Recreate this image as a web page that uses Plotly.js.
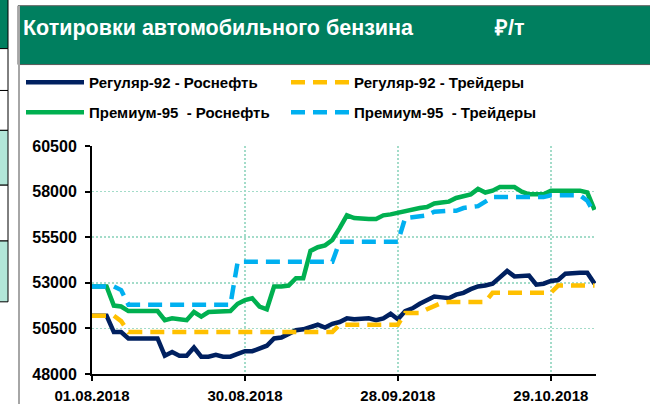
<!DOCTYPE html>
<html><head><meta charset="utf-8">
<script src="https://cdn.plot.ly/plotly-3.0.1.min.js"></script>
<style>html,body{margin:0;padding:0;background:#fff;overflow:hidden}#chart{width:650px;height:404px}</style>
</head><body><div id="chart"></div>
<script>
const dates = ['01.08.2018','02.08.2018','03.08.2018','06.08.2018','07.08.2018','08.08.2018','09.08.2018','10.08.2018','13.08.2018','14.08.2018',
'15.08.2018','16.08.2018','17.08.2018','20.08.2018','21.08.2018','22.08.2018','23.08.2018','24.08.2018','27.08.2018','28.08.2018',
'29.08.2018','30.08.2018','31.08.2018','03.09.2018','04.09.2018','05.09.2018','06.09.2018','07.09.2018','10.09.2018','11.09.2018',
'12.09.2018','13.09.2018','14.09.2018','17.09.2018','18.09.2018','19.09.2018','20.09.2018','21.09.2018','24.09.2018','25.09.2018',
'26.09.2018','27.09.2018','28.09.2018','01.10.2018','02.10.2018','03.10.2018','04.10.2018','05.10.2018','08.10.2018','09.10.2018',
'10.10.2018','11.10.2018','12.10.2018','15.10.2018','16.10.2018','17.10.2018','18.10.2018','19.10.2018','22.10.2018','23.10.2018',
'24.10.2018','25.10.2018','26.10.2018','29.10.2018','30.10.2018','31.10.2018','01.11.2018','02.11.2018','06.11.2018','07.11.2018'];

const reg92Rosneft = [51200,51200,51200,50300,50300,49950,49950,49950,49950,49950,
 49000,49200,49000,49000,49450,48950,48950,49050,48950,48950,
 49100,49250,49250,49400,49550,49950,50000,50200,50400,50450,
 50550,50700,50550,50750,50850,51050,51000,51000,51050,50950,
 51050,51300,51000,51450,51600,51850,52050,52250,52200,52150,
 52350,52450,52650,52800,52850,52950,53300,53650,53350,53350,
 53400,52900,52950,53100,53150,53500,53550,53550,53550,52950];

const reg92Traders = [51200,51200,51200,51200,50900,50300,50300,50300,50300,50300,
 50300,50300,50300,50300,50300,50300,50300,50300,50300,50300,
 50300,50300,50300,50300,50300,50300,50300,50300,50300,50300,
 50300,50300,50300,50300,50700,50700,50700,50700,50700,50700,
 50700,50700,50700,51350,51350,51350,51550,51750,51900,51950,
 51950,51950,51950,51950,51950,52450,52450,52450,52450,52450,
 52450,52450,52450,52450,52850,52850,52850,52850,52850,52850];

const prem95Rosneft = [52800,52800,52800,51750,51700,51450,51450,51450,51450,51450,
 50950,51050,51000,50950,51400,51150,51400,51400,51400,51450,
 51850,52050,52150,51700,51550,52800,52800,52850,53250,53250,
 54750,54950,55050,55350,56000,56700,56550,56500,56500,56500,
 56700,56750,56850,56950,57050,57100,57150,57350,57400,57450,
 57650,57750,57850,58150,57950,58050,58250,58250,58250,58000,
 57850,57850,57850,58050,58050,58050,58050,58050,57950,57000];

const prem95Traders = [52800,52800,52800,52800,52600,51800,51800,51800,51800,51800,
 51800,51800,51800,51800,51800,51800,51800,51800,51800,51800,
 54150,54150,54150,54150,54150,54150,54150,54150,54150,54150,
 54150,54150,54150,54150,55250,55250,55250,55250,55250,55250,
 55250,55250,55250,56550,56600,56650,56700,56900,56950,56950,
 56950,57100,57150,57200,57450,57700,57700,57700,57700,57700,
 57700,57700,57700,57800,57800,57800,57800,57800,57500,56800];

const seriesNames = ['Регуляр-92 - Роснефть','Регуляр-92 - Трейдеры','Премиум-95\u00a0 - Роснефть','Премиум-95\u00a0 - Трейдеры'];
const tickDates = ['01.08.2018','30.08.2018','28.09.2018','29.10.2018'];
const yTicks = [48000,50500,53000,55500,58000,60500];
const titleText = 'Котировки автомобильного бензина';
const unitText = '₽/т';

const W=650,H=404,L=92,R=54,T=145.7,B=29.6;
const PW=W-L-R, PH=H-T-B;
const px = x => (x-L)/PW;
const py = y => (H-B-y)/PH;
const FONT = 'Liberation Sans, Arial, sans-serif';
const GREEN_BAND = '#007f5f';
const TEAL = '#b2e6d8';

function rect(x0,y0,x1,y1,fill,lineColor,lw){
  return {type:'rect',xref:'paper',yref:'paper',x0:px(x0),x1:px(x1),y0:py(y1),y1:py(y0),
    fillcolor:fill,line:{color:lineColor||'rgba(0,0,0,0)',width:lw||0},layer:'below'};
}
function line(x0,y0,x1,y1,color,w){
  return {type:'line',xref:'paper',yref:'paper',x0:px(x0),x1:px(x1),y0:py(y0),y1:py(y1),
    line:{color:color,width:w},layer:'below'};
}
const shapes = [
  rect(-2,-2,8,48,GREEN_BAND,'#000',1),
  rect(-2,48,8,90,'#fff','#000',1),
  rect(-2,90,8,130,'#fff','#000',1),
  rect(-2,130,8,185,TEAL,'#000',1),
  rect(-2,185,8,241,'#fff','#000',1),
  rect(-2,241,8,302,TEAL,'#000',1),
  rect(18,5,652,64,GREEN_BAND,'#5a5a5a',1),
  line(19,5,19,406,'#a6a6a6',2),
];

const traces = [
  {y:reg92Rosneft,name:seriesNames[0],color:'#002060',dash:'solid',legend:'legend'},
  {y:prem95Rosneft,name:seriesNames[2],color:'#00b050',dash:'solid',legend:'legend2'},
  {y:reg92Traders,name:seriesNames[1],color:'#ffc000',dash:'14px,8px',legend:'legend'},
  {y:prem95Traders,name:seriesNames[3],color:'#00b0f0',dash:'14px,8px',legend:'legend2'},
].map(s=>({x:dates,y:s.y,name:s.name,type:'scatter',mode:'lines',legend:s.legend,
  line:{color:s.color,width:4.5,dash:s.dash},hoverinfo:'skip'}));

const legendBase = {xref:'paper',yref:'paper',xanchor:'left',yanchor:'middle',
  orientation:'h',entrywidth:192,itemwidth:58,bgcolor:'rgba(0,0,0,0)',
  font:{family:FONT,size:15,weight:'bold',color:'#000'},traceorder:'normal'};

const layout = {
  width:W,height:H,
  margin:{l:L,r:R,t:T,b:B,autoexpand:false},
  paper_bgcolor:'#fff',plot_bgcolor:'#fff',
  font:{family:FONT,color:'#000'},
  showlegend:true,
  legend:Object.assign({},legendBase,{x:px(21),y:py(82)}),
  legend2:Object.assign({},legendBase,{x:px(21),y:py(112)}),
  title:{text:titleText,xref:'container',yref:'container',x:23/W,y:1-27/H,xanchor:'left',yanchor:'middle',
    font:{family:FONT,size:21.5,weight:'bold',color:'#fff'}},
  annotations:[{text:unitText,xref:'paper',yref:'paper',x:px(492),y:py(27),xanchor:'left',yanchor:'middle',
    showarrow:false,font:{family:FONT,size:21.5,weight:'bold',color:'#fff'}}],
  xaxis:{type:'category',range:[0,69.2],tickmode:'array',tickvals:tickDates,ticktext:tickDates,
    ticks:'outside',ticklen:5,tickwidth:2,tickcolor:'#000',showline:true,linecolor:'#000',linewidth:2,
    showgrid:true,gridcolor:'#a3dcc9',gridwidth:1.5,griddash:'2px,2px',zeroline:false,
    tickfont:{family:FONT,size:15,weight:'bold',color:'#000'},ticklabelstandoff:2,fixedrange:true},
  yaxis:{range:[48000,60500],tickmode:'array',tickvals:yTicks,ticktext:yTicks.map(String),
    ticks:'outside',ticklen:5,tickwidth:2,tickcolor:'#000',showline:true,linecolor:'#000',linewidth:2,
    showgrid:true,gridcolor:'#a3dcc9',gridwidth:1.5,griddash:'2px,2px',zeroline:false,
    tickfont:{family:FONT,size:16,weight:'bold',color:'#000'},ticklabelstandoff:5,fixedrange:true},
  shapes:shapes
};
Plotly.newPlot('chart',traces,layout,{displayModeBar:false,staticPlot:true});
</script></body></html>
